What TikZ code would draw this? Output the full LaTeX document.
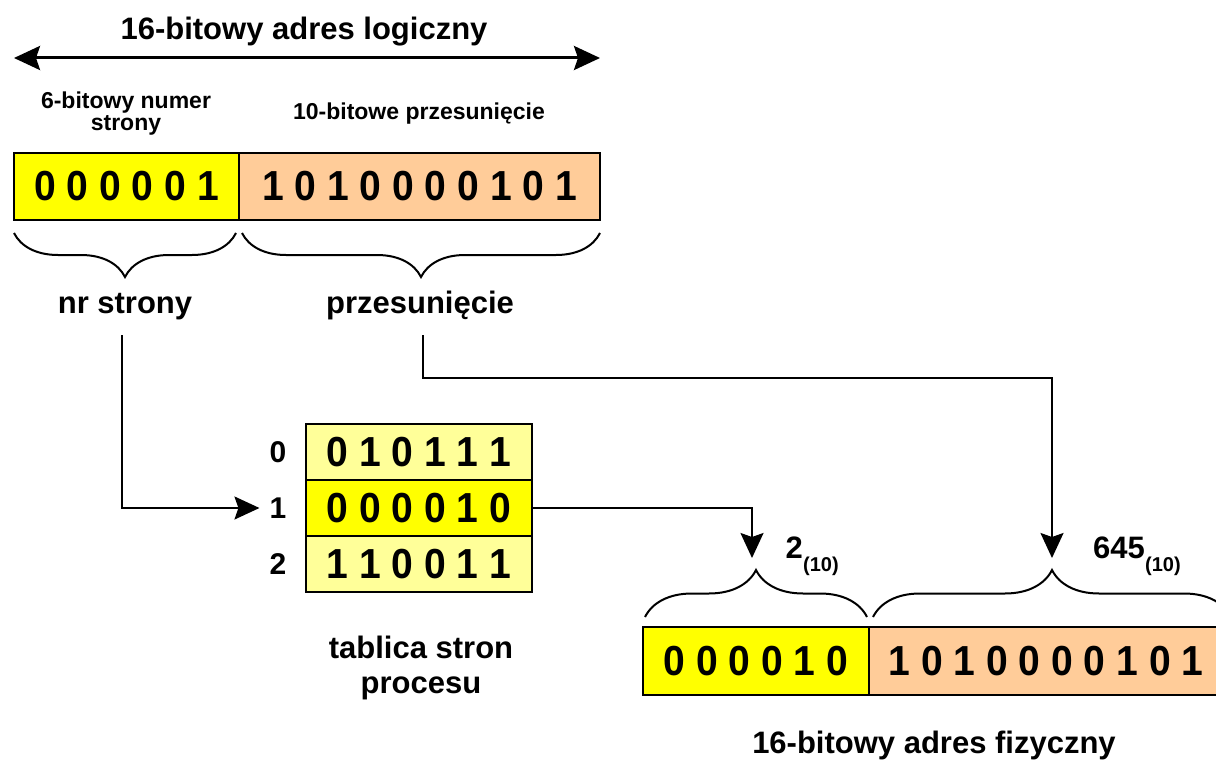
\documentclass[tikz,border=0pt]{standalone}
\usepackage{fontspec}
\setmainfont{Liberation Sans}
\newfontfamily\digitfont[FakeStretch=0.93]{Liberation Sans Bold}
\usetikzlibrary{arrows.meta,decorations.pathreplacing}
\definecolor{yel}{HTML}{FFFF00}
\definecolor{peach}{HTML}{FFCC99}
\definecolor{lightyel}{HTML}{FFFF99}
\begin{document}
\begin{tikzpicture}[x=1pt,y=-1pt,
  big/.style={font=\fontsize{31}{35}\selectfont\bfseries, inner sep=0pt},
  smalltxt/.style={font=\fontsize{23}{22}\selectfont\bfseries, inner sep=0pt, align=center},
  idx/.style={font=\fontsize{30}{32}\selectfont\bfseries, inner sep=0pt},
  sub/.style={font=\fontsize{20}{24}\selectfont\bfseries, inner sep=0pt},
  cell/.style={draw, line width=2.5pt, inner sep=0pt, font=\fontsize{42}{46}\digitfont},
  conn/.style={line width=2pt, -{Stealth[length=25pt,width=23pt,inset=4pt]}},
  brc/.style={line width=2pt, decorate, decoration={brace, amplitude=44pt}},
]
\useasboundingbox (0,0) rectangle (1216,760);
\clip (0,0) rectangle (1216,760);

% title and double arrow
\node[big, anchor=base] (title) at (304,40) {16-bitowy adres logiczny};
\coordinate (al) at (14,58);
\coordinate (ar) at (600,58);
\draw[line width=3pt, {Stealth[length=26pt,width=24pt,inset=4pt]}-{Stealth[length=26pt,width=24pt,inset=4pt]}] (al) -- (ar);

\node[smalltxt, anchor=base] (numlab) at (126,130) {6-bitowy numer\\strony};
\node[smalltxt, anchor=base] (offlab) at (419,119) {10-bitowe przesunięcie};

% logical address box
\node[cell, fill=yel, minimum width=225pt, minimum height=67pt] (lpage) at (126.5,186.5) {0 0 0 0 0 1};
\node[cell, fill=peach, minimum width=361pt, minimum height=67pt] (loff) at (419.5,186.5) {1 0 1 0 0 0 0 1 0 1};

% braces under logical address
\draw[brc, decoration={mirror}] (14,233) -- (236,233);
\draw[brc, decoration={mirror}] (242,233) -- (600,233);

\node[big, anchor=base] (nr) at (125,313) {nr strony};
\node[big, anchor=base] (prz) at (420,313) {przesunięcie};

% page table
\node[cell, fill=lightyel, minimum width=226pt, minimum height=56pt] (r0) at (419,452) {0 1 0 1 1 1};
\node[cell, fill=yel, minimum width=226pt, minimum height=56pt] (r1) at (419,508) {0 0 0 0 1 0};
\node[cell, fill=lightyel, minimum width=226pt, minimum height=56pt] (r2) at (419,564) {1 1 0 0 1 1};
\node[idx] (i0) at (278,452) {0};
\node[idx] (i1) at (278,508) {1};
\node[idx] (i2) at (278,564) {2};
\node[big, anchor=base, align=center] (tab) at (421,693) {tablica stron\\procesu};

% physical address box
\node[cell, fill=yel, minimum width=226pt, minimum height=68pt] (ppage) at (756,661) {0 0 0 0 1 0};
\node[cell, fill=peach, minimum width=354pt, minimum height=68pt] (poff) at (1046,661) {1 0 1 0 0 0 0 1 0 1};

% braces above physical address
\draw[brc, decoration={amplitude=47pt}] (645,617) -- (867,617);
\draw[brc, decoration={amplitude=47pt}] (873,617) -- (1231,617);

\node[big, anchor=base east] (two) at (803,558) {2};
\node[sub, anchor=base west] (twosub) at ([yshift=-13pt]two.base east) {(10)};
\node[big, anchor=base east] (six) at (1145,558) {645};
\node[sub, anchor=base west] (sixsub) at ([yshift=-13pt]six.base east) {(10)};

\node[big, anchor=base] (phys) at (934,753) {16-bitowy adres fizyczny};

% connectors
\coordinate (nrstart) at (122,335);
\coordinate (przstart) at (423,335);
\coordinate (t2) at (752,558);
\coordinate (t645) at (1052,558);
\draw[conn] (nrstart) |- ([xshift=-10pt]i1.west);
\draw[conn] (przstart) -- (423,378) -| (t645);
\draw[conn] (r1.east) -| (t2);
\end{tikzpicture}
\end{document}
